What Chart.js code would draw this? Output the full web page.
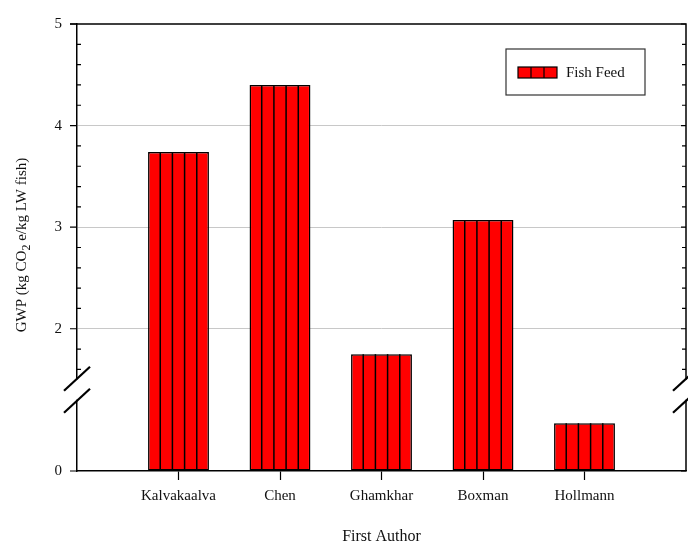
<!DOCTYPE html>
<html>
<head>
<meta charset="utf-8">
<script src="https://cdn.jsdelivr.net/npm/chart.js@4"></script>
<style>
  html, body { margin: 0; padding: 0; background: #fff; }
  #wrap { width: 688px; height: 544px; }
</style>
</head>
<body>
<div id="wrap"><canvas id="chart"></canvas></div>
<script>
// ================= DATA =================
const authors = ["Kalvakaalva", "Chen", "Ghamkhar", "Boxman", "Hollmann"];
const fishFeed = [3.74, 4.40, 1.75, 3.07, 0.47];
const yMajor = [0, 2, 3, 4, 5];
const yMinor = [1.6, 1.8, 2.2, 2.4, 2.6, 2.8, 3.2, 3.4, 3.6, 3.8, 4.2, 4.4, 4.6, 4.8];
const gridAt = [2, 3, 4];

// axis break: values between breakLow and breakHigh are cut out
const breakLow = 0.8;
const breakHigh = 1.4;
const gap = breakHigh - breakLow;

const toDisp = (v) => (v <= breakLow ? v : v - gap);
const toReal = (d) => Math.round((d <= breakLow ? d : d + gap) * 10) / 10;

const SERIF = "'Liberation Serif', 'Times New Roman', serif";
const TEXT = "#111";

// ================= PLUGIN =================
const decor = {
  id: "decor",
  afterDatasetsDraw(chart) {
    const ctx = chart.ctx;
    const meta = chart.getDatasetMeta(0);
    ctx.save();
    ctx.strokeStyle = "#000";
    ctx.lineWidth = 1.5;
    meta.data.forEach((bar) => {
      const left = bar.x - bar.width / 2;
      for (let k = 1; k < 5; k++) {
        const lx = left + (k * bar.width) / 5;
        ctx.beginPath();
        ctx.moveTo(lx, bar.y);
        ctx.lineTo(lx, bar.base);
        ctx.stroke();
      }
    });
    ctx.restore();
  },
  afterDraw(chart) {
    const ctx = chart.ctx;
    const { left, right, top, bottom } = chart.chartArea;
    const y = chart.scales.y;
    ctx.save();
    ctx.strokeStyle = "#000";
    ctx.lineWidth = 1.5;

    // top and right frame
    ctx.beginPath();
    ctx.moveTo(left - 7, top);
    ctx.lineTo(right, top);
    ctx.lineTo(right, bottom);
    ctx.stroke();

    // ticks
    ctx.lineWidth = 1.2;
    yMajor.forEach((v) => {
      const py = y.getPixelForValue(toDisp(v));
      ctx.beginPath();
      ctx.moveTo(left - 7, py);
      ctx.lineTo(left, py);
      ctx.moveTo(right - 5, py);
      ctx.lineTo(right, py);
      ctx.stroke();
    });
    yMinor.forEach((v) => {
      const py = y.getPixelForValue(toDisp(v));
      ctx.beginPath();
      ctx.moveTo(left, py);
      ctx.lineTo(left + 4, py);
      ctx.moveTo(right - 4, py);
      ctx.lineTo(right, py);
      ctx.stroke();
    });

    // break marks
    const pb = y.getPixelForValue(breakLow);
    [left, right].forEach((ax) => {
      ctx.fillStyle = "#fff";
      ctx.fillRect(ax - 2, pb - 10, 4, 20);
      ctx.strokeStyle = "#000";
      ctx.lineWidth = 2.2;
      [-11, 11].forEach((dy) => {
        ctx.beginPath();
        ctx.moveTo(ax - 13, pb + dy + 12);
        ctx.lineTo(ax + 13, pb + dy - 12);
        ctx.stroke();
      });
    });

    // y title with subscript
    ctx.translate(22, 245);
    ctx.rotate(-Math.PI / 2);
    ctx.fillStyle = TEXT;
    ctx.textBaseline = "middle";
    const big = "15px " + SERIF;
    const small = "12px " + SERIF;
    const parts = [
      { t: "GWP (kg CO", f: big, dy: 0 },
      { t: "2", f: small, dy: 5 },
      { t: " e/kg LW fish)", f: big, dy: 0 },
    ];
    let total = 0;
    parts.forEach((p) => {
      ctx.font = p.f;
      p.w = ctx.measureText(p.t).width;
      total += p.w;
    });
    let tx = -total / 2;
    parts.forEach((p) => {
      ctx.font = p.f;
      ctx.fillText(p.t, tx, p.dy);
      tx += p.w;
    });
    ctx.setTransform(1, 0, 0, 1, 0, 0);

    // legend
    ctx.strokeStyle = "#333";
    ctx.lineWidth = 1.2;
    ctx.strokeRect(506, 49, 139, 46);
    ctx.fillStyle = "#ff0000";
    ctx.fillRect(518, 67, 39, 11);
    ctx.strokeStyle = "#000";
    ctx.lineWidth = 1.2;
    ctx.strokeRect(518, 67, 39, 11);
    [531, 544].forEach((lx) => {
      ctx.beginPath();
      ctx.moveTo(lx, 67);
      ctx.lineTo(lx, 78);
      ctx.stroke();
    });
    ctx.fillStyle = TEXT;
    ctx.font = "15px " + SERIF;
    ctx.textBaseline = "middle";
    ctx.fillText(chart.data.datasets[0].label, 566, 73);
    ctx.restore();
  },
};

// ================= CHART =================
new Chart(document.getElementById("chart"), {
  type: "bar",
  data: {
    datasets: [
      {
        label: "Fish Feed",
        data: fishFeed.map((v, i) => ({ x: i + 1, y: toDisp(v) })),
        backgroundColor: "#ff0000",
        borderColor: "#000",
        borderWidth: 1.5,
        borderSkipped: false,
        barPercentage: 0.75,
        categoryPercentage: 0.8,
      },
    ],
  },
  options: {
    responsive: true,
    maintainAspectRatio: false,
    animation: false,
    layout: { padding: { left: 0, top: 24, right: 2, bottom: 0 } },
    plugins: { legend: { display: false }, tooltip: { enabled: false } },
    scales: {
      x: {
        type: "linear",
        min: 0,
        max: 6,
        offset: false,
        afterBuildTicks: (s) => {
          s.ticks = authors.map((a, i) => ({ value: i + 1 }));
        },
        afterFit: (s) => {
          s.height = 73;
        },
        ticks: {
          callback: (v) => authors[v - 1],
          color: TEXT,
          font: { family: SERIF, size: 15 },
          padding: 7,
          maxRotation: 0,
        },
        grid: {
          offset: false,
          drawOnChartArea: false,
          tickLength: 9,
          tickColor: "#000",
          tickWidth: 1.2,
        },
        border: { color: "#000", width: 1.5 },
        title: {
          display: true,
          text: "First Author",
          color: TEXT,
          font: { family: SERIF, size: 16 },
          padding: { top: 0, bottom: -2 },
        },
      },
      y: {
        min: 0,
        max: 5 - gap,
        afterBuildTicks: (s) => {
          s.ticks = yMajor.map((v) => ({ value: toDisp(v) }));
        },
        afterFit: (s) => {
          s.width = 77;
        },
        ticks: {
          callback: (v) => String(toReal(v)),
          color: TEXT,
          font: { family: SERIF, size: 15 },
          padding: 15,
        },
        grid: {
          drawTicks: false,
          color: (c) => (gridAt.includes(toReal(c.tick.value)) ? "#c8c8c8" : "rgba(0,0,0,0)"),
          lineWidth: 1,
        },
        border: { color: "#000", width: 1.5 },
      },
    },
  },
  plugins: [decor],
});
</script>
</body>
</html>
